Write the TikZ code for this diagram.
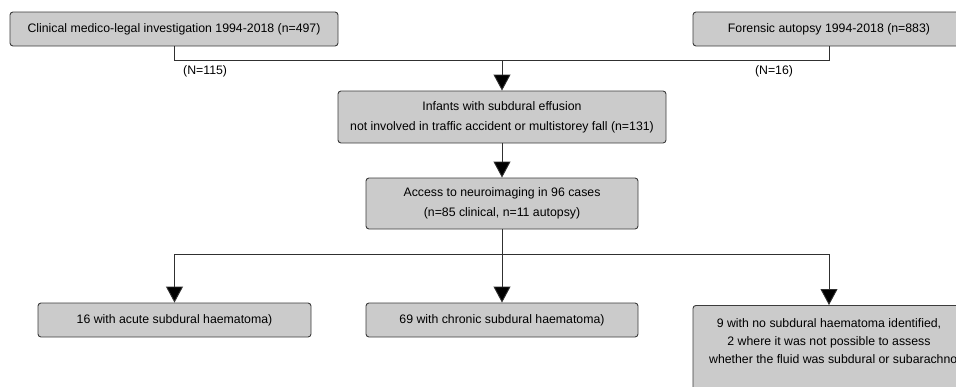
\documentclass[tikz,border=0pt]{standalone}
\usepackage{fontspec}
\setmainfont{Liberation Sans}
\usetikzlibrary{arrows.meta}
\definecolor{boxfill}{HTML}{CBCBCB}
\definecolor{boxline}{HTML}{3C3C3C}
\definecolor{lineclr}{HTML}{303030}
\begin{document}
\begin{tikzpicture}[x=1pt,y=-1pt,
  box/.style={draw=boxline, fill=boxfill, rounded corners=3pt, line width=0.9pt, inner sep=0pt, font=\fontsize{12.3}{20}\selectfont, align=center},
  conn/.style={draw=lineclr, line width=0.9pt},
  arr/.style={conn, -{Triangle[width=17pt,length=16pt,fill=black]}},
  lbl/.style={font=\fontsize{12.3}{14}\selectfont, inner sep=0pt}]
\useasboundingbox (0,0) rectangle (956,386);
\node[box, minimum width=328pt, minimum height=34pt] (clin) at (174,29) {Clinical medico-legal investigation 1994-2018 (n=497)};
\node[box, minimum width=272pt, minimum height=34pt] (fore) at (829,29) {Forensic autopsy 1994-2018 (n=883)};
\node[box, minimum width=328pt, minimum height=52pt] (inf) at (502,117) {Infants with subdural effusion\\not involved in traffic accident or multistorey fall (n=131)};
\node[box, minimum width=272pt, minimum height=51pt] (acc) at (502,203.5) {Access to neuroimaging in 96 cases\\(n=85 clinical, n=11 autopsy)};
\node[box, minimum width=273pt, minimum height=34pt] (acute) at (174.5,320) {16 with acute subdural haematoma)};
\node[box, minimum width=272pt, minimum height=34pt] (chron) at (502,320) {69 with chronic subdural haematoma)};
\node[box, minimum width=272pt, minimum height=120pt, anchor=north] (none) at (829,305) {};
\node[font=\fontsize{12.3}{18}\selectfont, align=center, inner sep=0pt, anchor=north] (nonetxt) at (829,318) {9 with no subdural haematoma identified,\\2 where it was not possible to assess\\\hspace*{18pt}whether the fluid was subdural or subarachnoid};
\node[lbl, anchor=west] (n115) at (183,71) {(N=115)};
\node[lbl] (n16) at (774,71) {(N=16)};
\coordinate (j1) at (502,60);
\coordinate (j2) at (502,254);
\draw[conn] (clin.south) -- (clin.south |- j1) -- (fore.south |- j1) -- (fore.south);
\draw[arr] (j1) -- (inf.north);
\draw[arr] (inf.south) -- (acc.north);
\draw[conn] (acc.south) -- (j2);
\draw[conn] (acute.north |- j2) -- (none.north |- j2);
\draw[arr] (acute.north |- j2) -- (acute.north);
\draw[arr] (j2) -- (chron.north);
\draw[arr] (none.north |- j2) -- (none.north);
\end{tikzpicture}
\end{document}
